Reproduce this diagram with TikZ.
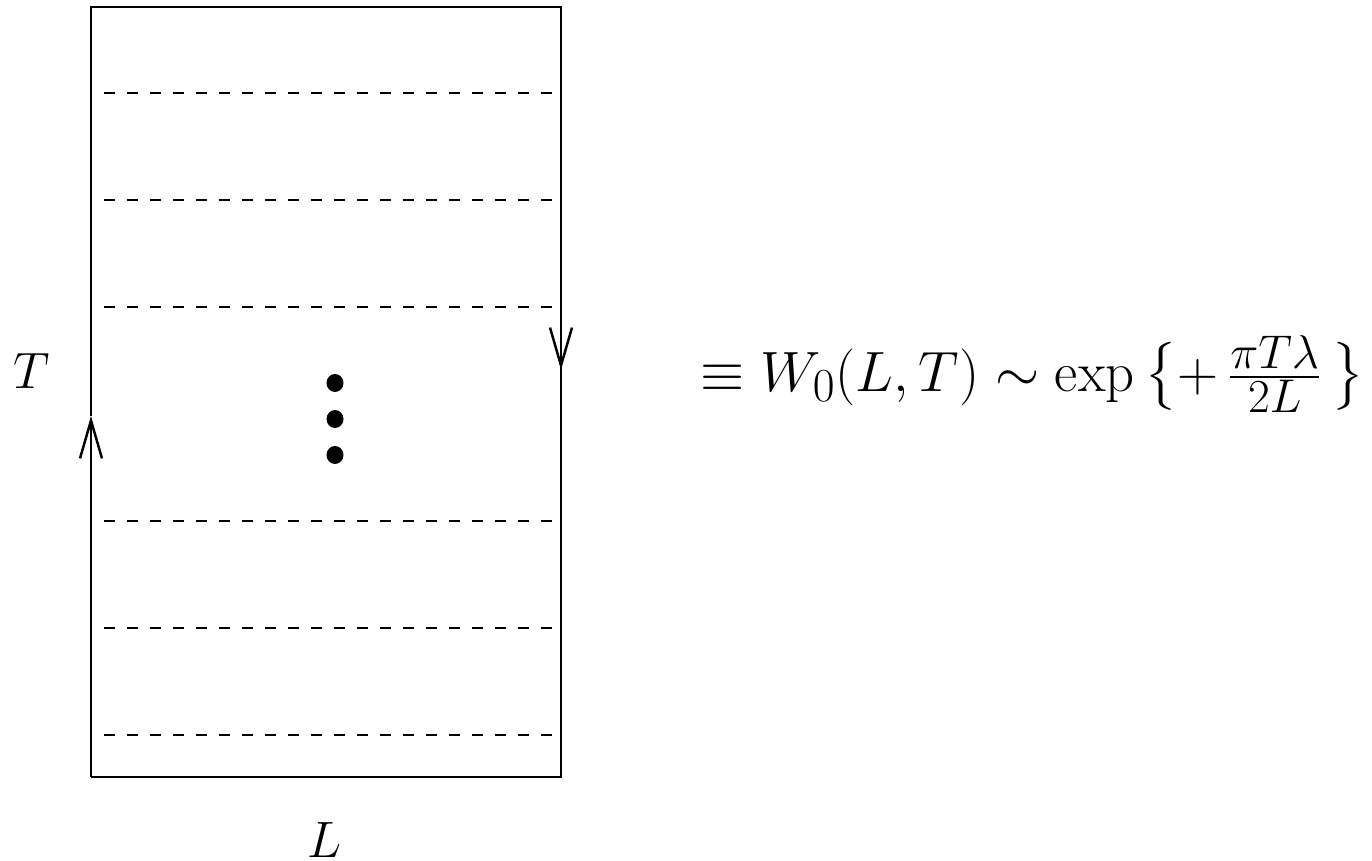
\documentclass[tikz,border=0pt]{standalone}
\usepackage{amsmath,amssymb}
\usepackage{tikz}
\usetikzlibrary{arrows.meta, positioning}

\begin{document}
\begin{tikzpicture}[x=0.02cm, y=-0.02cm, font=\Huge,
  loopline/.style={line width=1.1pt},
  slice/.style={line width=0.8pt, dash pattern=on 0.22cm off 0.24cm},
  flow/.style={-{Straight Barb[length=0.76cm, width=0.44cm, line width=1.4pt]}, line width=1.1pt},
  blob/.style={fill=black},
  axislabel/.style={scale=1.17, anchor=base}
]
  \useasboundingbox (0,0) rectangle (1372,861);
  % Corners of the loop
  \coordinate (bl) at (91,777);
  \coordinate (tl) at (91,7);
  \coordinate (tr) at (561,7);
  \coordinate (br) at (561,777);
  \coordinate (lmid) at (91,416);
  \coordinate (rmid) at (561,370);

  % Loop with orientation arrows
  \draw[flow] (bl) -- (lmid);
  \draw[loopline] (lmid) -- (tl) -- (tr) -- (rmid);
  \draw[flow] (tr) -- (rmid);
  \draw[loopline] (rmid) -- (br) -- (bl);

  % Time slices
  \foreach \y in {93, 200, 307, 521, 628, 735} {
    \draw[slice] (104,\y) -- (561,\y);
  }

  % Dots
  \foreach \y in {383, 419, 455} {
    \fill[blob] (335,\y) ellipse [x radius=8.5, y radius=9];
  }

  % Labels
  \node[axislabel] (tlab) at (32,388) {$T$};
  \node[axislabel] (llab) at (325,857) {$L$};
  \node[anchor=base west, inner sep=0pt, scale=1.3] (eqn) at (700,391)
    {$\equiv W_0(L,T) \sim \exp\,\bigl\{+\,\frac{\pi T\lambda}{2L}\,\bigr\}$};
\end{tikzpicture}
\end{document}
